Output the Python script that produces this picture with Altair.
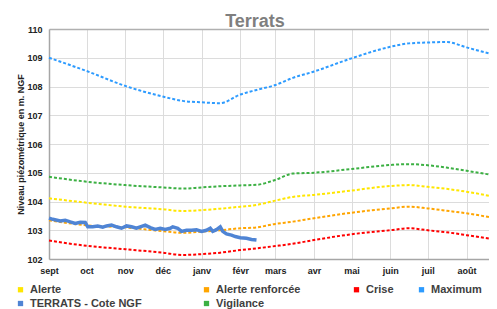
import altair as alt
import pandas as pd

# ---- axis ticks / labels ----
month_days = [0, 30, 61, 91, 122, 153, 181, 212, 242, 273, 303, 334]
month_labels = ['sept', 'oct', 'nov', 'déc', 'janv', 'févr', 'mars', 'avr', 'mai', 'juin', 'juil', 'août']
y_ticks = [102, 103, 104, 105, 106, 107, 108, 109, 110]

# ---- threshold series (day offset from 1 Sept) ----
thr_days = [0, 30, 61, 91, 107, 122, 137, 153, 166, 181, 195, 212, 242, 273, 288, 303, 318, 334, 352]
maximum = [109.0, 108.54, 108.02, 107.65, 107.5, 107.45, 107.42, 107.72, 107.88, 108.05, 108.3, 108.52,
           108.98, 109.38, 109.5, 109.53, 109.55, 109.36, 109.15]
vigilance = [104.86, 104.69, 104.57, 104.49, 104.45, 104.49, 104.53, 104.56, 104.58, 104.75, 104.97, 105.0,
             105.13, 105.27, 105.3, 105.26, 105.18, 105.07, 104.94]
alerte = [104.11, 103.96, 103.82, 103.73, 103.67, 103.70, 103.75, 103.82, 103.88, 104.03, 104.16, 104.23,
          104.38, 104.54, 104.57, 104.51, 104.44, 104.34, 104.2]
alerte_renf = [103.35, 103.17, 103.1, 102.97, 102.91, 102.95, 103.0, 103.07, 103.1, 103.22, 103.3, 103.42,
               103.61, 103.76, 103.82, 103.76, 103.68, 103.59, 103.46]
crise = [102.64, 102.46, 102.34, 102.22, 102.14, 102.17, 102.22, 102.31, 102.37, 102.45, 102.53, 102.66,
         102.86, 103.0, 103.07, 103.0, 102.93, 102.83, 102.71]

# ---- measured series ----
mes_days = [0, 3, 9, 13, 17, 21, 25, 29, 31, 35, 39, 43, 46, 50, 54, 58, 62, 66, 70, 73, 77, 81, 85, 89,
            93, 97, 99, 103, 106, 110, 114, 118, 122, 126, 129, 131, 134, 137, 139, 142, 146, 149, 153,
            158, 162, 166]
mes_vals = [103.42, 103.38, 103.32, 103.35, 103.29, 103.24, 103.28, 103.27, 103.12, 103.12, 103.15, 103.11,
            103.15, 103.18, 103.12, 103.07, 103.15, 103.12, 103.07, 103.12, 103.18, 103.09, 103.03, 103.07,
            103.03, 103.07, 103.12, 103.07, 102.96, 103.0, 103.0, 103.02, 102.96, 103.0, 103.07, 102.96,
            103.02, 103.12, 102.96, 102.87, 102.83, 102.78, 102.74, 102.72, 102.68, 102.66]

names = ["Alerte", "Alerte renforcée", "Crise", "Maximum", "TERRATS - Cote NGF", "Vigilance"]
colors = ["#ffe600", "#ffa500", "#ff0000", "#2d9bff", "#4f84d4", "#3cb043"]
legend_pad = {"TERRATS - Cote NGF": 16, "Alerte renforcée": 13, "Crise": 4}

FONT = "Liberation Sans"

rows = []
for nm, vals in [("Maximum", maximum), ("Vigilance", vigilance), ("Alerte", alerte),
                 ("Alerte renforcée", alerte_renf), ("Crise", crise)]:
    for d, v in zip(thr_days, vals):
        rows.append({"day": d, "val": v, "serie": nm})
thr_df = pd.DataFrame(rows)
mes_df = pd.DataFrame({"day": mes_days, "val": mes_vals, "serie": "TERRATS - Cote NGF"})
all_df = pd.concat([thr_df, mes_df], ignore_index=True)

month_expr = "[" + ",".join("'%s'" % m for m in month_labels) + "][indexof([" + \
    ",".join(str(d) for d in month_days) + "], datum.value)]"

# pad legend labels (non-breaking spaces closed by a zero-width char so they are not trimmed)
label_expr = ""
for k, n in legend_pad.items():
    label_expr += "datum.label == '%s' ? '%s' : " % (k, k + "\u00a0" * n + "\u200b")
label_expr += "datum.label"

x_enc = alt.X("day:Q", scale=alt.Scale(domain=[0, 352], nice=False, zero=False),
              axis=alt.Axis(values=month_days, labelExpr=month_expr, title=None, grid=True, ticks=False,
                            labelPadding=7, labelFont=FONT, labelFontWeight="bold", labelFontSize=9,
                            labelColor="#222222", domainColor="#a6a6a6", domainWidth=1.5,
                            gridColor="#dcdcdc", labelFlush=False, labelOverlap=False))
y_enc = alt.Y("val:Q", scale=alt.Scale(domain=[102, 110], nice=False, zero=False),
              axis=alt.Axis(values=y_ticks, title="Niveau piézométrique en m. NGF", titleFont=FONT,
                            titleFontSize=9, titleFontWeight="bold", titleColor="#222222", titlePadding=1,
                            labelFont=FONT, labelFontWeight="bold", labelFontSize=9, labelColor="#222222",
                            ticks=False, labelPadding=7, domainColor="#a6a6a6", domainWidth=1.5,
                            gridColor={"condition": {"test": "datum.value === 110", "value": "#b0b0b0"},
                                       "value": "#dcdcdc"},
                            gridWidth={"condition": {"test": "datum.value === 110", "value": 1.5},
                                       "value": 1}))

legend = alt.Legend(orient="none", legendX=-34, legendY=255, columns=4, direction="horizontal", title=None,
                    symbolType="square", symbolSize=28, symbolStrokeWidth=0, symbolOpacity=1,
                    labelFont=FONT, labelFontSize=11, labelFontWeight="bold",
                    labelColor="#404040", labelOffset=4, columnPadding=10, rowPadding=2,
                    labelLimit=400, padding=0, labelExpr=label_expr)
color_enc = alt.Color("serie:N", scale=alt.Scale(domain=names, range=colors), legend=legend)

# invisible filled squares so that the legend shows filled square swatches
swatch = alt.Chart(all_df).mark_square(size=0, filled=True).encode(x=x_enc, y=y_enc, color=color_enc)
thr = alt.Chart(thr_df).mark_line(strokeDash=[3, 2], strokeWidth=2, interpolate="monotone").encode(
    x=x_enc, y=y_enc, color=color_enc, detail="serie:N")
mes = alt.Chart(mes_df).mark_line(strokeWidth=3.5).encode(x=x_enc, y=y_enc, color=color_enc)

chart = alt.layer(swatch, thr, mes).properties(
    width=440, height=230,
    padding={"left": 41, "top": 21, "right": 0, "bottom": 50},
    autosize=alt.AutoSizeParams(type="none"),
    title=alt.TitleParams("Terrats", fontSize=18, fontWeight="bold", color="#7f7f7f", dx=-14, offset=0,
                          dy=6, font=FONT),
).configure_view(stroke=None)

chart.save("out.html", embed_options={"renderer": "svg", "actions": False})
